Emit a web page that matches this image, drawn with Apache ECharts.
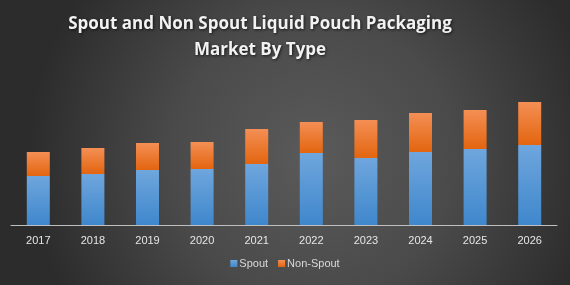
<!DOCTYPE html>
<html>
<head>
<meta charset="utf-8">
<script src="https://cdn.jsdelivr.net/npm/echarts@6/dist/echarts.min.js"></script>
<style>
  html, body { margin: 0; padding: 0; }
  #chart { width: 570px; height: 285px; }
</style>
</head>
<body>
<div id="chart"></div>
<script>
  var years = ['2017', '2018', '2019', '2020', '2021', '2022', '2023', '2024', '2025', '2026'];
  var spout = [49, 51, 55, 56, 61, 72, 67, 73, 76, 80];
  var nonSpout = [24, 26, 27, 27, 35, 31, 38, 39, 39, 43];

  var chart = echarts.init(document.getElementById('chart'));

  var blue = new echarts.graphic.LinearGradient(0, 0, 0, 1, [
    { offset: 0, color: '#6fa6dd' },
    { offset: 1, color: '#3f87cc' }
  ]);
  var orange = new echarts.graphic.LinearGradient(0, 0, 0, 1, [
    { offset: 0, color: '#f48f55' },
    { offset: 1, color: '#e3650f' }
  ]);

  var option = {
    backgroundColor: new echarts.graphic.RadialGradient(0.55, 0.55, 1.0, [
      { offset: 0, color: '#5a5a5a' },
      { offset: 0.5, color: '#4a4a4a' },
      { offset: 1, color: '#2c2c2c' }
    ]),
    title: {
      text: 'Spout and Non Spout Liquid Pouch Packaging\nMarket By Type',
      left: 260,
      top: 6,
      padding: [5, 5, 5, 0],
      textAlign: 'center',
      textStyle: {
        color: '#f2f2f2',
        fontFamily: 'Open Sans',
        fontWeight: 'bold',
        fontSize: 17,
        lineHeight: 26,
        textShadowColor: 'rgba(0,0,0,0.7)',
        textShadowBlur: 3,
        textShadowOffsetX: 1,
        textShadowOffsetY: 1
      }
    },
    legend: {
      data: ['Spout', 'Non-Spout'],
      bottom: 11,
      left: 'center',
      itemWidth: 7,
      itemHeight: 7,
      itemGap: 10,
      icon: 'rect',
      textStyle: { color: '#d9d9d9', fontSize: 11, fontFamily: 'Liberation Sans', padding: [0, 0, 0, -3] }
    },
    grid: { left: 11, right: 13, top: 85, bottom: 60 },
    xAxis: {
      type: 'category',
      data: years,
      axisTick: { show: false },
      axisLine: { lineStyle: { color: '#bfbfbf', width: 1 } },
      axisLabel: { color: '#e6e6e6', fontSize: 11, fontFamily: 'Liberation Sans', margin: 10 }
    },
    yAxis: {
      type: 'value',
      min: 0,
      max: 140,
      show: false,
      splitLine: { show: false }
    },
    series: [
      {
        name: 'Spout',
        type: 'bar',
        stack: 'total',
        barWidth: 23,
        data: spout,
        itemStyle: { color: blue, shadowColor: 'rgba(0,0,0,0.45)', shadowBlur: 3, shadowOffsetX: 2 }
      },
      {
        name: 'Non-Spout',
        type: 'bar',
        stack: 'total',
        barWidth: 23,
        data: nonSpout,
        itemStyle: { color: orange, shadowColor: 'rgba(0,0,0,0.45)', shadowBlur: 3, shadowOffsetX: 2 }
      }
    ]
  };

  chart.setOption(option);
</script>
</body>
</html>
